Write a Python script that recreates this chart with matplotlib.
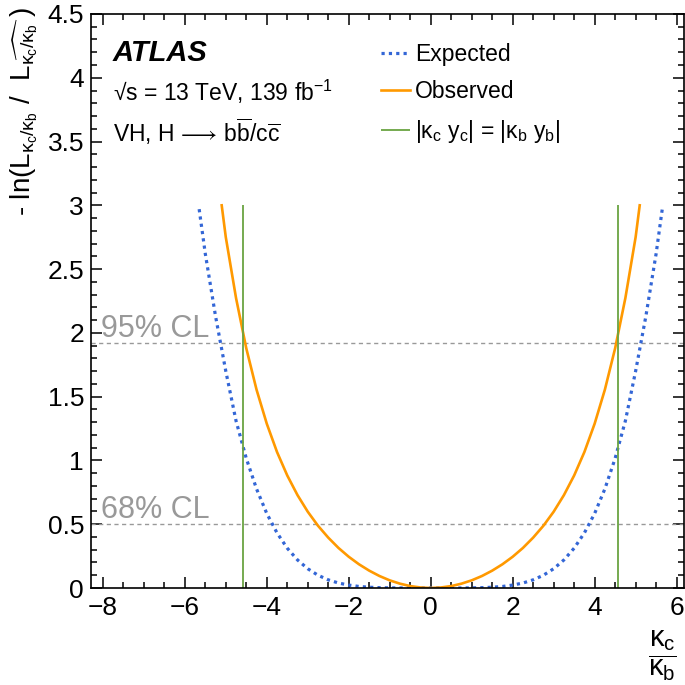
import matplotlib
matplotlib.use("Agg")
import matplotlib.pyplot as plt
import numpy as np
from matplotlib.ticker import MultipleLocator, FuncFormatter

plt.rcParams["font.family"] = ["Liberation Sans", "DejaVu Sans"]
plt.rcParams["mathtext.fontset"] = "custom"
plt.rcParams["mathtext.rm"] = "Liberation Sans"
plt.rcParams["mathtext.it"] = "Liberation Sans"
plt.rcParams["mathtext.bf"] = "Liberation Sans:bold"

# values
exp_x = [-5.65, -5.5, -5.25, -5.0, -4.75, -4.5, -4.25, -4.0, -3.75, -3.5, -3.25,
         -3.0, -2.75, -2.5, -2.25, -2.0, -1.75, -1.5, -1.25, -1.0, -0.75, -0.5,
         -0.25, 0.0, 0.25, 0.5, 0.75, 1.0, 1.25, 1.5, 1.75, 2.0, 2.25, 2.5, 2.75,
         3.0, 3.25, 3.5, 3.75, 4.0, 4.25, 4.5, 4.75, 5.0, 5.25, 5.5, 5.65]
exp_y = [2.97, 2.62, 2.13, 1.70, 1.31, 1.016, 0.777, 0.584, 0.432, 0.312, 0.220,
         0.151, 0.100, 0.064, 0.039, 0.023, 0.012, 0.006, 0.0025, 0.0009, 0.0002, 0.0,
         0.0, 0.0, 0.0, 0.0, 0.0002, 0.0009, 0.0025, 0.006, 0.012, 0.023, 0.039, 0.064, 0.100,
         0.151, 0.220, 0.312, 0.432, 0.584, 0.777, 1.016, 1.31, 1.70, 2.13, 2.62, 2.97]

obs_x = [-5.1, -5.0, -4.75, -4.5, -4.25, -4.0, -3.75, -3.5, -3.25, -3.0, -2.75,
         -2.5, -2.25, -2.0, -1.75, -1.5, -1.25, -1.0, -0.75, -0.5, -0.25, 0.0,
         0.25, 0.5, 0.75, 1.0, 1.25, 1.5, 1.75, 2.0, 2.25, 2.5, 2.75, 3.0, 3.25,
         3.5, 3.75, 4.0, 4.25, 4.5, 4.75, 5.0, 5.1]
obs_y = [3.0, 2.75, 2.273, 1.879, 1.555, 1.288, 1.066, 0.882, 0.728, 0.598, 0.488,
         0.395, 0.314, 0.245, 0.186, 0.136, 0.094, 0.060, 0.034, 0.015, 0.004, 0.0,
         0.004, 0.015, 0.034, 0.060, 0.094, 0.136, 0.186, 0.245, 0.314, 0.395, 0.488, 0.598, 0.728,
         0.882, 1.066, 1.288, 1.555, 1.879, 2.273, 2.75, 3.0]

equal_coupling = [-4.57, 4.57]
cl_levels = [0.5, 1.92]
cl_labels = ["68% CL", "95% CL"]

fig = plt.figure(figsize=(6.85, 6.85), dpi=100)
ax = fig.add_axes([0.1328, 0.1416, 0.8657, 0.838])

for lvl, lab in zip(cl_levels, cl_labels):
    ax.axhline(lvl, color="#999999", lw=1.0, ls=(0, (3, 2.5)))
    ax.text(-8.04, lvl + 0.05, lab, color="#999999", fontsize=22, va="baseline")

ax.plot(exp_x, exp_y, color="#3366d6", lw=2.3, ls=(0, (1, 1.3)), label="Expected")
ax.plot(obs_x, obs_y, color="#ff9900", lw=1.9, label="Observed")
ax.vlines(equal_coupling, 0, 3, color="#6aa442", lw=1.3,
          label=r"|$\kappa_{\rm c}$ y$_{\rm c}$| = |$\kappa_{\rm b}$ y$_{\rm b}$|")

ax.set_xlim(-8.29, 6.18)
ax.set_ylim(0, 4.5)
ax.xaxis.set_major_locator(MultipleLocator(2))
ax.xaxis.set_minor_locator(MultipleLocator(0.5))
ax.yaxis.set_major_locator(MultipleLocator(0.5))
ax.yaxis.set_minor_locator(MultipleLocator(0.1))
ax.tick_params(which="both", direction="in", top=True, right=True, labelsize=19, width=1.1)
ax.tick_params(which="major", length=8)
ax.tick_params(which="minor", length=4.3)
ax.tick_params(axis="x", pad=6)
ax.tick_params(axis="y", pad=5)
ax.yaxis.set_major_formatter(FuncFormatter(lambda v, p: f"{v:g}"))
for s in ax.spines.values():
    s.set_linewidth(1.2)

ax.set_ylabel(r"- ln(L$_{\kappa_c/\kappa_b}$ /  L$_{\widehat{\kappa_c/\kappa_b}}$ )",
              fontsize=20, loc="top")
ax.yaxis.set_label_coords(-0.086, 1.012)
ax.set_xlabel(r"$\dfrac{\kappa_c}{\kappa_b}$", fontsize=21, loc="right")
ax.xaxis.set_label_coords(0.988, -0.07)

ax.text(0.037, 0.932, "ATLAS", transform=ax.transAxes, fontsize=21,
        fontweight="bold", fontstyle="italic", va="center")
ax.text(0.037, 0.864, "\u221as = 13 TeV, 139 fb$^{-1}$", transform=ax.transAxes,
        fontsize=16.5, va="center")
ax.text(0.037, 0.795, r"VH, H$\,\longrightarrow\,$b$\overline{\rm b}$/c$\overline{\rm c}$",
        transform=ax.transAxes, fontsize=16.5, va="center")

ax.legend(loc="upper left", bbox_to_anchor=(0.489, 0.95), frameon=False, fontsize=16.5,
          borderpad=0, borderaxespad=0, handlelength=1.27, handletextpad=0.23,
          labelspacing=0.64)

fig.savefig("out.png", dpi=100)
